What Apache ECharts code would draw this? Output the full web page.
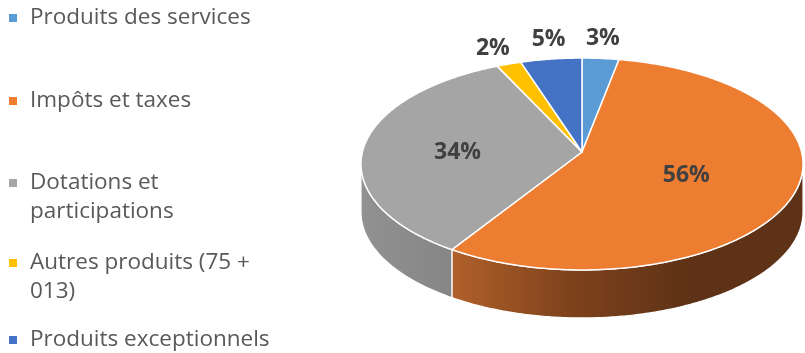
<!DOCTYPE html>
<html><head><meta charset="utf-8">
<script src="https://cdn.jsdelivr.net/npm/echarts@6/dist/echarts.min.js"></script>
<style>html,body{margin:0;padding:0;background:#fff}#c{width:805px;height:353px}</style>
</head><body><div id="c"></div>
<script>
// ---- data ----
const categories = ['Produits des services', 'Impôts et taxes', 'Dotations et participations', 'Autres produits (75 + 013)', 'Produits exceptionnels'];
const legendLabels = ['Produits des services', 'Impôts et taxes', 'Dotations et\nparticipations', 'Autres produits (75 +\n013)', 'Produits exceptionnels'];
const values = [3, 56, 34, 2, 5];
const percentLabels = ['3%', '56%', '34%', '2%', '5%'];

// ---- style / layout ----
const colors = ['#5B9BD5', '#ED7D31', '#A5A5A5', '#FFC000', '#4472C4'];
const wallStops = [
  ['#3E6D98', '#2A4B6A'],
  ['#B0602A', '#7E421C', '#5E3216'],
  ['#919191', '#868686'],
  ['#B38700', '#7F6000'],
  ['#2F528A', '#203860']
];
const labelRadius = [1.2, 0.5, 0.57, 1.2, 1.2];
const labelShift = [[-1, -3], [0, 4], [0, 4], [-3, 0], [3, -3]];
const legendLineCenters = [18, 101, 183, 263, 340];
const CX = 582, CY = 152, A = 219.6, B = 104.6, K = 0.1132, DEPTH = 48;
const total = values.reduce((s, v) => s + v, 0);

function proj(r, th) {
  const X = r * Math.sin(th), Z = -r * Math.cos(th);
  const w = 1 - K * Z;
  return [CX + A * X / w, CY + B * Z / w];
}
function arc(a, b, dy) {
  const pts = [];
  const n = Math.max(2, Math.ceil((b - a) / 0.01));
  for (let i = 0; i <= n; i++) {
    const p = proj(1, a + (b - a) * i / n);
    pts.push([p[0], p[1] + (dy || 0)]);
  }
  return pts;
}
const VIS0 = Math.acos(-K), VIS1 = 2 * Math.PI - Math.acos(-K);

function makeRender(idx) {
  return function (params, api) {
    const v = api.value(0);
    let before = 0;
    for (let i = 0; i < idx; i++) before += values[i];
    const a = before / total * 2 * Math.PI;
    const b = (before + v) / total * 2 * Math.PI;
    const children = [];
    const s = Math.max(a, VIS0), e = Math.min(b, VIS1);
    if (e > s) {
      const top = arc(s, e, 0);
      const bot = arc(s, e, DEPTH).reverse();
      const xs = top.map(p => p[0]);
      const x0 = Math.min.apply(null, xs), x1 = idx === 1 ? 690 : Math.max.apply(null, xs);
      const st = wallStops[idx];
      children.push({
        type: 'polygon', z2: 1,
        shape: { points: top.concat(bot) },
        style: {
          fill: {
            type: 'linear', global: true, x: x0, y: 0, x2: x1, y2: 0,
            colorStops: st.map((c, i) => ({ offset: i / (st.length - 1), color: c }))
          },
          stroke: '#ffffff', lineWidth: 1.2
        }
      });
    }
    children.push({
      type: 'polygon', z2: 10,
      shape: { points: [[CX, CY]].concat(arc(a, b, 0)) },
      style: { fill: colors[idx], stroke: '#ffffff', lineWidth: 1.5, lineJoin: 'round' }
    });
    const mid = (a + b) / 2;
    const r = labelRadius[idx];
    const lp = proj(r, mid);
    children.push({
      type: 'text', z2: 20,
      style: {
        text: percentLabels[idx], x: lp[0] + labelShift[idx][0], y: lp[1] + labelShift[idx][1],
        align: 'center', verticalAlign: 'middle',
        font: 'bold 23px "Open Sans"', fill: '#404040'
      }
    });
    return { type: 'group', children: children };
  };
}

const chart = echarts.init(document.getElementById('c'), null, { renderer: 'canvas' });
const twoLine = legendLabels.map(l => l.indexOf('\n') >= 0);
chart.setOption({
  animation: false,
  backgroundColor: '#ffffff',
  legend: categories.map((name, i) => ({
    data: [name],
    orient: 'vertical',
    left: 9,
    top: legendLineCenters[i] - (twoLine[i] ? 43.5 : 14.5),
    padding: 0,
    icon: 'rect',
    itemWidth: 8, itemHeight: 8,
    selectedMode: false,
    formatter: () => (twoLine[i] ? ' \n' : '') + legendLabels[i],
    textStyle: {
      fontFamily: 'Open Sans', fontSize: 22.5, color: '#595959',
      lineHeight: 29, padding: [0, 0, 0, 8]
    }
  })),
  series: categories.map((name, i) => ({
    type: 'custom',
    name: name,
    coordinateSystem: 'none',
    itemStyle: { color: colors[i] },
    data: [[values[i]]],
    renderItem: makeRender(i),
    silent: true
  }))
});
</script>
</body></html>
